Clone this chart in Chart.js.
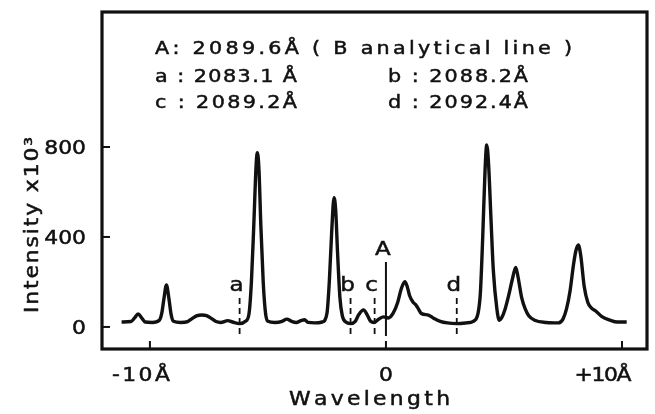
<!DOCTYPE html>
<html>
<head>
<meta charset="utf-8">
<script src="https://cdn.jsdelivr.net/npm/chart.js@4.4.1/dist/chart.umd.min.js"></script>
<style>
	html, body { margin: 0; padding: 0; background: #fff; }
	#wrap { width: 655px; height: 414px; }
</style>
</head>
<body>
<div id="wrap"><canvas id="grafico_espectro"></canvas></div>
<script>
// Wavelength offset (Å) from the B line, and intensity (x10^3)
const wavelength = [
	-11.2, -10.8, -10.65, -10.5, -10.35, -10.2, -9.9, -9.6, -9.5, -9.4,
	-9.3, -9.2, -9.1, -9.0, -8.7, -8.4, -8.2, -8.0, -7.8, -7.6,
	-7.4, -7.2, -7.0, -6.7, -6.5, -6.2, -5.95, -5.8, -5.7, -5.6,
	-5.5, -5.45, -5.38, -5.3, -5.2, -5.1, -5.0, -4.7, -4.4, -4.2,
	-4.0, -3.8, -3.6, -3.45, -3.3, -3.0, -2.7, -2.5, -2.4, -2.3,
	-2.2, -2.13, -2.05, -1.95, -1.85, -1.7, -1.5, -1.3, -1.15, -0.95,
	-0.8, -0.65, -0.5, -0.3, -0.1, 0.1, 0.3, 0.5, 0.65, 0.8,
	0.9, 1.0, 1.15, 1.25, 1.35, 1.5, 1.8, 2.0, 2.3, 2.6,
	3.0, 3.4, 3.7, 3.9, 4.0, 4.1, 4.2, 4.27, 4.35, 4.45,
	4.55, 4.7, 4.8, 4.9, 5.05, 5.2, 5.35, 5.5, 5.6, 5.75,
	5.9, 6.05, 6.3, 6.8, 7.3, 7.5, 7.65, 7.8, 7.95, 8.05,
	8.15, 8.25, 8.4, 8.55, 8.7, 8.9, 9.15, 9.5, 9.8, 10.2,
];
const intensity = [
	22, 24, 40, 58, 40, 22, 20, 30, 60, 130,
	187, 130, 55, 25, 20, 24, 38, 50, 53, 50,
	38, 24, 20, 28, 22, 15, 25, 60, 200, 450,
	720, 775, 700, 450, 200, 60, 25, 20, 25, 35,
	25, 20, 28, 32, 20, 18, 22, 60, 200, 420,
	575, 520, 330, 130, 50, 22, 15, 25, 55, 76,
	55, 25, 20, 35, 45, 40, 60, 110, 170, 201,
	180, 140, 110, 100, 85, 60, 53, 40, 25, 18,
	15, 18, 25, 60, 150, 400, 700, 809, 720, 480,
	250, 80, 30, 40, 80, 140, 210, 265, 220, 130,
	80, 50, 30, 20, 18, 35, 80, 160, 280, 340,
	364, 320, 180, 110, 85, 70, 46, 30, 22, 22,
];

// Marked lines
const markerNames = ['a', 'b', 'c', 'A', 'd'];
const markerPos = [-6.2, -1.5, -0.48, 0, 3.0];
const markerTop = [129, 129, 129, 289, 129];
const markerBottom = -40;

// Axis ticks
const xTicks = [-10, 0, 10];
const xTickLabels = ['-10Å', '0', '+10Å'];
const yTicks = [0, 400, 800];
const yTickLabels = ['0', '400', '800'];

// Key text
const keyLines = [
	['A: 2089.6Å ( B analytical line )'],
	['a : 2083.1 Å', 'b : 2088.2Å'],
	['c : 2089.2Å', 'd : 2092.4Å'],
];

const INK = '#111';
const FONT = '"DejaVu Sans", sans-serif';
const ANCHO = 1.15; // letras algo mas anchas, como en el original

// draws text letter by letter, stretched to a given width if asked
function textoEspaciado(ctx, text, x, y, align, width) {
	const chars = [...text];
	const widths = chars.map((ch) => ctx.measureText(ch).width * ANCHO);
	const natural = widths.reduce((a, b) => a + b, 0);
	const gap = width && chars.length > 1 ? (width - natural) / (chars.length - 1) : 0;
	const total = natural + gap * (chars.length - 1);
	let cx = x;
	if (align === 'center') cx = x - total / 2;
	if (align === 'right') cx = x - total;
	ctx.textAlign = 'left';
	ctx.lineWidth = 0.5;
	chars.forEach((ch, i) => {
		ctx.save();
		ctx.translate(cx, y);
		ctx.scale(ANCHO, 1);
		ctx.fillText(ch, 0, 0);
		ctx.strokeText(ch, 0, 0);
		ctx.restore();
		cx += widths[i] + gap;
	});
}

const decorado = {
	id: 'decorado',
	afterDatasetsDraw(chart) {
		const { ctx, chartArea: area, scales } = chart;
		const sx = scales.x;
		const sy = scales.y;
		ctx.save();
		ctx.fillStyle = INK;
		ctx.strokeStyle = INK;

		// marco
		ctx.lineWidth = 3.2;
		ctx.strokeRect(area.left, area.top, area.right - area.left, area.bottom - area.top);

		// ticks hacia adentro
		ctx.lineWidth = 2;
		yTicks.forEach((v) => {
			const py = sy.getPixelForValue(v);
			ctx.beginPath();
			ctx.moveTo(area.left, py);
			ctx.lineTo(area.left + 8, py);
			ctx.stroke();
		});
		xTicks.forEach((v) => {
			const px = sx.getPixelForValue(v);
			ctx.beginPath();
			ctx.moveTo(px, area.bottom);
			ctx.lineTo(px, area.bottom - 8);
			ctx.stroke();
		});

		ctx.textBaseline = 'alphabetic';
		ctx.font = `19px ${FONT}`;
		yTicks.forEach((v, i) => {
			textoEspaciado(ctx, yTickLabels[i], area.left - 16, sy.getPixelForValue(v) + 7, 'right');
		});

		const xShift = [-9, 0, -19];
		const xWidth = [58, 0, 57];
		xTicks.forEach((v, i) => {
			textoEspaciado(ctx, xTickLabels[i], sx.getPixelForValue(v) + xShift[i], 381, 'center', xWidth[i]);
		});

		// titulos de ejes
		ctx.font = `19px ${FONT}`;
		textoEspaciado(ctx, 'Wavelength', (area.left + area.right) / 2 - 5, 405, 'center', 161);
		ctx.save();
		ctx.translate(38, 225);
		ctx.rotate(-Math.PI / 2);
		textoEspaciado(ctx, 'Intensity x10³', 0, 0, 'center', 176);
		ctx.restore();

		// nombres de las lineas marcadas
		ctx.font = `20px ${FONT}`;
		markerNames.forEach((name, i) => {
			const px = sx.getPixelForValue(markerPos[i]) - 3;
			const py = sy.getPixelForValue(markerTop[i]) - 7;
			textoEspaciado(ctx, name, px, py, 'center');
		});

		// leyenda de texto arriba
		ctx.font = `18px ${FONT}`;
		const baseY = [54, 82, 108];
		const colX = [155, 388];
		const widthsKey = [[417], [142, 140], [142, 140]];
		keyLines.forEach((line, r) => {
			line.forEach((t, c) => {
				textoEspaciado(ctx, t, colX[c], baseY[r], 'left', widthsKey[r][c]);
			});
		});

		ctx.restore();
	},
};

const markerSets = markerNames.map((name, i) => ({
	label: name,
	data: [
		{ x: markerPos[i], y: markerTop[i] },
		{ x: markerPos[i], y: markerBottom },
	],
	borderColor: INK,
	borderWidth: name === 'A' ? 2 : 1.8,
	borderDash: name === 'A' ? [] : [6, 4],
	pointRadius: 0,
	fill: false,
}));

new Chart(document.getElementById('grafico_espectro'), {
	type: 'line',
	data: {
		datasets: [
			{
				label: 'Intensity',
				data: wavelength.map((w, i) => ({ x: w, y: intensity[i] })),
				borderColor: INK,
				borderWidth: 3.4,
				pointRadius: 0,
				cubicInterpolationMode: 'monotone',
				fill: false,
			},
			...markerSets,
		],
	},
	plugins: [decorado],
	options: {
		responsive: true,
		maintainAspectRatio: false,
		animation: false,
		layout: { padding: { left: 102, top: 12, right: 8, bottom: 65 } },
		plugins: {
			legend: { display: false },
			tooltip: { enabled: false },
		},
		scales: {
			x: { type: 'linear', min: -12.03, max: 11.06, display: false },
			y: { type: 'linear', min: -98, max: 1400, display: false },
		},
	},
});
</script>
</body>
</html>
